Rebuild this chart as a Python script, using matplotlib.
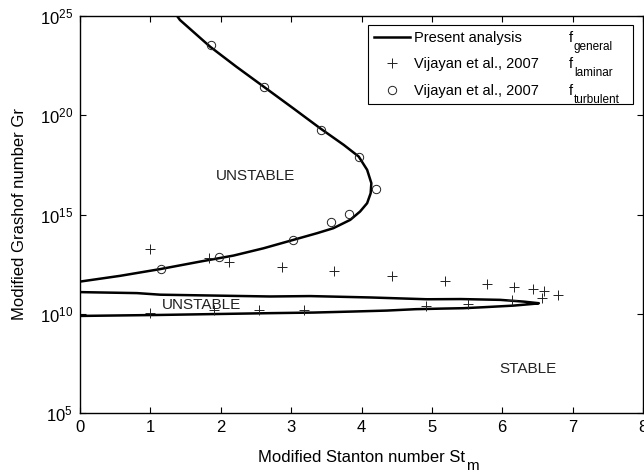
import matplotlib
matplotlib.use("Agg")
import matplotlib.pyplot as plt
from matplotlib.lines import Line2D
import numpy as np

plt.rcParams['font.family'] = ['Liberation Sans', 'DejaVu Sans']
plt.rcParams['mathtext.fontset'] = 'custom'
plt.rcParams['mathtext.rm'] = 'Liberation Sans'
plt.rcParams['mathtext.it'] = 'Liberation Sans:italic'

# Present analysis (f_general): S-shaped neutral stability curve, log10(Gr)
curve_st = [1.38, 1.42, 1.85, 2.22, 2.61, 3.03, 3.41, 3.75, 3.96, 4.08, 4.14, 4.13,
            4.08, 3.98, 3.84, 3.60, 3.37, 3.03, 2.61, 2.18, 1.71, 1.14, 0.57, 0.0]
curve_lg = [25.0, 24.80, 23.45, 22.45, 21.44, 20.35, 19.35, 18.50, 17.92, 17.25, 16.58, 16.07,
            15.57, 15.15, 14.73, 14.31, 14.06, 13.72, 13.30, 12.93, 12.63, 12.25, 11.91, 11.62]

# Present analysis: lower unstable tongue (upper and lower branch joined at tip)
loop_st = [0.0, 0.81, 1.14, 2.70, 3.27, 4.13, 4.93, 5.41, 5.97, 6.31, 6.52,
           6.45, 6.16, 5.74, 5.45, 5.15, 4.77, 4.36, 3.86, 3.32, 2.70, 1.14, 0.0]
loop_lg = [11.09, 11.04, 10.96, 10.87, 10.89, 10.82, 10.73, 10.74, 10.70, 10.61, 10.53,
           10.50, 10.41, 10.33, 10.28, 10.26, 10.23, 10.16, 10.11, 10.06, 10.03, 9.94, 9.89]

# Vijayan et al., 2007, f_laminar
lam_st = [0.99, 1.83, 2.12, 2.87, 3.61, 4.44, 5.19, 5.79, 6.16, 6.43, 6.60, 6.79,
          6.57, 6.14, 5.52, 4.91, 3.19, 2.55, 1.91, 0.99]
lam_lg = [13.28, 12.83, 12.60, 12.33, 12.14, 11.91, 11.64, 11.49, 11.34, 11.25, 11.15, 10.92,
          10.79, 10.70, 10.48, 10.40, 10.20, 10.20, 10.18, 10.06]

# Vijayan et al., 2007, f_turbulent
turb_st = [1.86, 2.62, 3.43, 3.97, 4.20, 3.82, 3.57, 3.03, 1.97, 1.15]
turb_lg = [23.54, 21.41, 19.28, 17.90, 16.30, 15.05, 14.63, 13.72, 12.85, 12.26]

fig = plt.figure(figsize=(6.44, 4.74), dpi=100)
ax = fig.add_axes([80 / 644, 61 / 474, 563 / 644, 397 / 474])

ax.plot(curve_st, 10.0 ** np.array(curve_lg), color='black', lw=1.8)
ax.plot(loop_st, 10.0 ** np.array(loop_lg), color='black', lw=1.8)
ax.plot(lam_st, 10.0 ** np.array(lam_lg), linestyle='none', marker='+',
        ms=6.5, mew=0.7, color='#222222')
ax.plot(turb_st, 10.0 ** np.array(turb_lg), linestyle='none', marker='o',
        ms=6, mew=0.7, mfc='none', mec='#222222')

ax.set_yscale('log')
ax.set_xlim(0, 8)
ax.set_ylim(1e5, 1e25)
ax.set_xticks(range(0, 9))
ax.set_yticks([1e5, 1e10, 1e15, 1e20, 1e25])
ax.minorticks_off()
ax.tick_params(direction='in', top=True, right=True, length=4, width=0.8,
               labelsize=12, pad=5)
for s in ax.spines.values():
    s.set_linewidth(1.0)

ax.set_xlabel('Modified Stanton number St', fontsize=12, labelpad=11)
ax.set_ylabel('Modified Grashof number Gr', fontsize=12, labelpad=9)

ax.text(2.5, 10 ** 16.94, 'UNSTABLE', ha='center', va='center', fontsize=11, color='#222222')
ax.text(1.73, 10 ** 10.45, 'UNSTABLE', ha='center', va='center', fontsize=11, color='#222222')
ax.text(6.37, 10 ** 7.23, 'STABLE', ha='center', va='center', fontsize=11, color='#222222')

handles = [Line2D([], [], color='black', lw=1.8),
           Line2D([], [], linestyle='none', marker='+', ms=6.5, mew=0.7, color='#222222'),
           Line2D([], [], linestyle='none', marker='o', ms=6, mew=0.7, mfc='none', mec='#222222')]
labels = ['Present analysis', 'Vijayan et al., 2007', 'Vijayan et al., 2007']
leg = ax.legend(handles, labels, loc='upper left', mode='expand',
                bbox_to_anchor=(0.5115, 0.768, 0.4705, 0.209), borderaxespad=0,
                fontsize=10.5, handlelength=2.5, handletextpad=0.27,
                labelspacing=0.85, borderpad=0.4, fancybox=False,
                edgecolor='black', framealpha=1)
leg.get_frame().set_linewidth(0.8)

fig.canvas.draw()
inv = fig.transFigure.inverted()

# f column of the legend with MATLAB-style low subscripts
subs = ['general', 'laminar', 'turbulent']
for txt, sub in zip(leg.get_texts(), subs):
    bb = txt.get_window_extent()
    yc = (bb.y0 + bb.y1) / 2
    fx, fy = inv.transform((569, yc))
    fig.text(fx, fy, 'f', ha='left', va='center', fontsize=10.5)
    sx, sy = inv.transform((574, yc - 9))
    fig.text(sx, sy, sub, ha='left', va='center', fontsize=8.5)

# subscript m of the x label
bb = ax.xaxis.label.get_window_extent()
mx, my = inv.transform((bb.x1 + 1, bb.y0 - 1))
fig.text(mx, my, 'm', ha='left', va='center', fontsize=11)

fig.savefig('out.png', dpi=100)
